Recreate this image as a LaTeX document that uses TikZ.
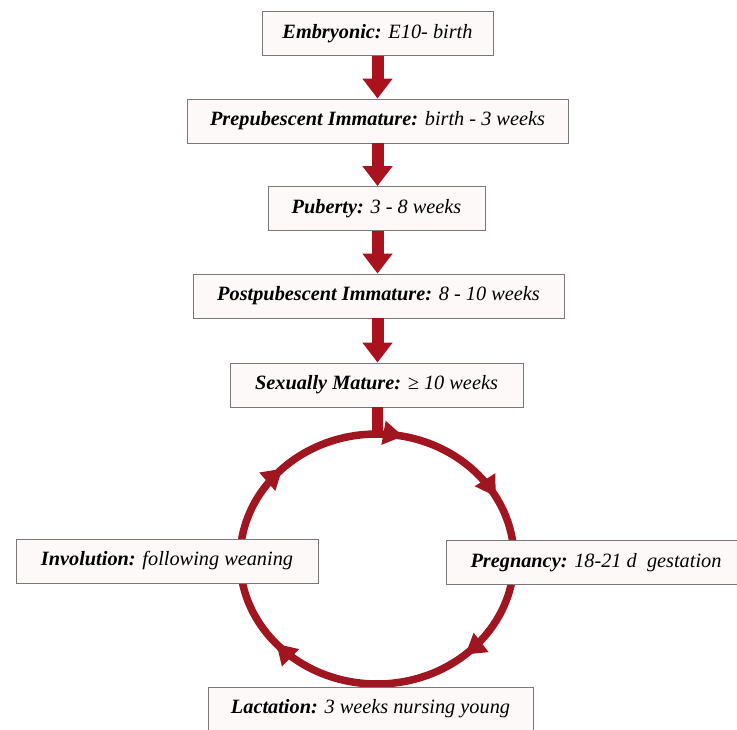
\documentclass[tikz,border=0pt]{standalone}
\usepackage{fontspec}
\setmainfont{Liberation Serif}
\usetikzlibrary{arrows.meta,decorations.markings}
\definecolor{arrowred}{RGB}{170,18,30}
\definecolor{ringred}{RGB}{160,22,32}
\definecolor{boxfill}{RGB}{253,249,249}
\definecolor{boxline}{RGB}{120,120,120}
\tikzset{
  stagebox/.style={draw=boxline, line width=0.9pt, fill=boxfill, minimum height=44pt,
    inner sep=0pt, font=\fontsize{20.3}{24}\selectfont},
  downarrow/.style={draw=arrowred, line width=12pt,
    -{Triangle[width=29pt,length=20pt]}},
  ringtip/.tip={Triangle[width=23pt,length=20pt]},
}
\newcommand{\lbl}[2]{\textbf{\textit{#1}} \textit{#2}}
\begin{document}
\begin{tikzpicture}[x=1pt,y=1pt]
\useasboundingbox (0,0) rectangle (737,-730);
\clip (0,0) rectangle (737,-730);
% cycle ring
\coordinate (ringtop) at (377,-434);
\draw[ringred, line width=7.5pt,
  postaction={decorate},
  decoration={markings,
    mark=at position 0.032 with {\arrow{ringtip}},
    mark=at position 0.170 with {\arrow{ringtip}},
    mark=at position 0.385 with {\arrow{ringtip}},
    mark=at position 0.635 with {\arrow{ringtip}},
    mark=at position 0.875 with {\arrow{ringtip}}}]
  (ringtop) arc[start angle=90, end angle=-270, x radius=137, y radius=125];
% stage boxes
\node[stagebox, minimum width=231pt] (emb) at (377.5,-33.5) {\lbl{Embryonic:}{E10- birth}};
\node[stagebox, minimum width=381pt] (pre) at (377.5,-121) {\lbl{Prepubescent Immature:}{birth - 3 weeks}};
\node[stagebox, minimum width=217pt] (pub) at (376.5,-208.5) {\lbl{Puberty:}{3 - 8 weeks}};
\node[stagebox, minimum width=371pt] (post) at (378.5,-296) {\lbl{Postpubescent Immature:}{8 - 10 weeks}};
\node[stagebox, minimum width=293pt] (sm) at (376.5,-385) {\lbl{Sexually Mature:}{≥ 10 weeks}};
\node[stagebox, minimum width=302pt] (inv) at (167,-561) {\lbl{Involution:}{following weaning}};
\node[stagebox, minimum width=300pt] (preg) at (596,-562.5) {\lbl{Pregnancy:}{18-21 d\ \ gestation}};
\node[stagebox, minimum width=325pt] (lac) at (370.5,-709) {\lbl{Lactation:}{3 weeks nursing young}};
% connectors
\draw[downarrow] (emb.south) -- (emb.south |- pre.north);
\draw[downarrow] (pre.south) -- (pre.south |- pub.north);
\draw[downarrow] (pub.south -| pre.south) -- (pre.south |- post.north);
\draw[downarrow] (post.south -| pre.south) -- (pre.south |- sm.north);
\draw[arrowred, line width=11pt] (sm.south -| ringtop) -- (ringtop);
\end{tikzpicture}
\end{document}
